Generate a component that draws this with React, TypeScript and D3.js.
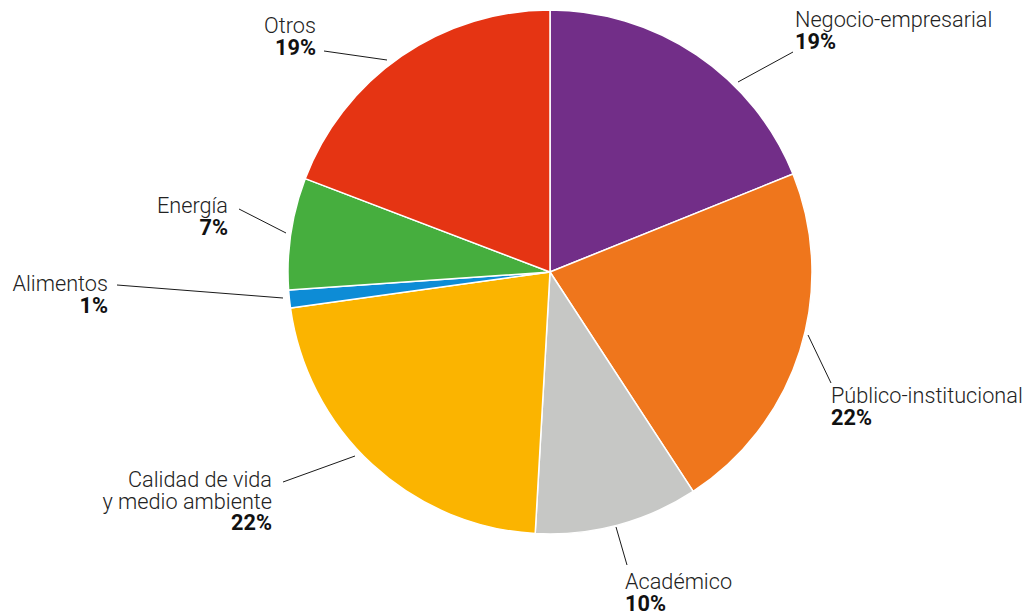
import React from "react";
import * as d3 from "d3";

const categories = [
  "Negocio-empresarial",
  "Público-institucional",
  "Académico",
  "Calidad de vida y medio ambiente",
  "Alimentos",
  "Energía",
  "Otros",
];
const values = [18.9, 21.9, 10.1, 21.9, 1.1, 6.9, 19.2];
const colors = ["#722E88", "#EF761C", "#C6C7C5", "#FBB400", "#0D8CD6", "#46AE3E", "#E53413"];
const labelLines = [
  ["Negocio-empresarial"],
  ["Público-institucional"],
  ["Académico"],
  ["Calidad de vida", "y medio ambiente"],
  ["Alimentos"],
  ["Energía"],
  ["Otros"],
];

// layout for leader lines and label text (page px)
const layout = [
  { x1: 738, y1: 82, x2: 793, y2: 52, tx: 795, ty: 27, anchor: "start" },
  { x1: 808, y1: 335, x2: 831, y2: 383, tx: 831, ty: 403, anchor: "start" },
  { x1: 616, y1: 527, x2: 627, y2: 565, tx: 625, ty: 589, anchor: "start" },
  { x1: 355, y1: 456, x2: 283, y2: 482, tx: 272, ty: 487, anchor: "end" },
  { x1: 283, y1: 298, x2: 117, y2: 285, tx: 108, ty: 291, anchor: "end" },
  { x1: 286, y1: 233, x2: 239, y2: 209, tx: 228, ty: 213, anchor: "end" },
  { x1: 387, y1: 60, x2: 324, y2: 51, tx: 316, ty: 33, anchor: "end" },
];

const W = 1035;
const H = 615;
const CX = 550;
const CY = 272;
const R = 262;
const LH = 21.5;
const FS = 21.7;

export default function App() {
  const total = d3.sum(values);
  const pie = d3
    .pie<number>()
    .sort(null)
    .value((d) => d)
    .startAngle(0)
    .endAngle(2 * Math.PI);
  const arcs = pie(values);
  const arcGen = d3.arc<d3.PieArcDatum<number>>().innerRadius(0).outerRadius(R);

  return (
    <svg
      width={W}
      height={H}
      style={{ position: "absolute", left: 0, top: 0, background: "#fff" }}
      fontFamily="Roboto, 'Noto Sans', sans-serif"
    >
      <g transform={`translate(${CX},${CY})`}>
        {arcs.map((a, i) => (
          <path key={i} d={arcGen(a) || ""} fill={colors[i]} stroke="#fff" strokeWidth={1.5} strokeLinejoin="round" />
        ))}
      </g>
      {layout.map((l, i) => {
        const lines = labelLines[i];
        const pct = Math.round((values[i] / total) * 100) + "%";
        return (
          <g key={i}>
            <line x1={l.x1} y1={l.y1} x2={l.x2} y2={l.y2} stroke="#1a1a1a" strokeWidth={1} />
            <text x={l.tx} y={l.ty} textAnchor={l.anchor as any} fontSize={FS} fill="#222">
              {lines.map((t, j) => (
                <tspan key={j} x={l.tx} y={l.ty + j * LH} fontWeight={300}>
                  {t}
                </tspan>
              ))}
              <tspan x={l.tx} y={l.ty + lines.length * LH} fontWeight={700} fill="#111">
                {pct}
              </tspan>
            </text>
          </g>
        );
      })}
    </svg>
  );
}
